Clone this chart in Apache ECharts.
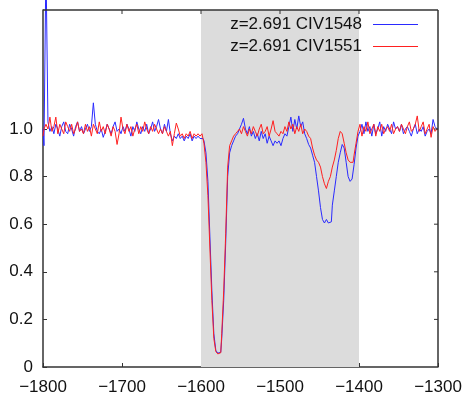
<!DOCTYPE html>
<html>
<head>
<meta charset="utf-8">
<script src="https://cdn.jsdelivr.net/npm/echarts@6/dist/echarts.min.js"></script>
<style>html,body{margin:0;padding:0;background:#fff;}#c{width:464px;height:400px;}</style>
</head>
<body>
<div id="c"></div>
<script>
// velocity grid (km/s), one value per spectral pixel
var VEL_START = -1800;
var VEL_STEP = 2.5;

var seriesNames = ['z=2.691 CIV1548', 'z=2.691 CIV1551'];

// normalised flux, CIV 1548 (blue)
var civ1548 = [
  1.00, 0.93, 1.70, 1.03, 0.99, 1.01, 0.98, 1.02, 1.00, 0.97, 1.01, 1.03, 0.99, 0.98, 1.02, 1.00, 0.97, 1.01, 1.03, 0.99,
  1.01, 0.98, 1.00, 1.02, 0.99, 1.01, 1.11, 1.02, 0.99, 0.98, 1.00, 0.965, 0.99, 1.02, 1.00, 0.98, 1.01, 1.03, 0.99, 1.00,
  0.98, 1.01, 0.99, 1.02, 1.00, 0.97, 1.01, 0.99, 1.03, 1.00, 0.98, 1.01, 0.99, 1.02, 0.98, 1.00, 1.03, 0.99, 1.01, 1.04,
  1.00, 0.98, 1.02, 0.99, 1.04, 0.98, 0.95, 0.97, 0.96, 0.98, 0.96, 0.97, 0.95, 0.97, 0.96, 0.98, 0.95, 0.97, 0.96, 0.97,
  0.96, 0.96, 0.95, 0.90, 0.78, 0.55, 0.32, 0.14, 0.07, 0.058, 0.062, 0.12, 0.28, 0.52, 0.80, 0.90, 0.93, 0.95, 0.97, 0.98,
  1.00, 1.02, 1.045, 1.00, 0.98, 1.01, 0.97, 0.99, 0.96, 0.98, 0.95, 0.99, 0.96, 0.98, 0.94, 0.97, 0.95, 0.93, 0.95, 0.94,
  0.95, 0.93, 0.96, 0.98, 0.97, 1.01, 1.05, 0.99, 1.04, 1.00, 1.055, 1.01, 1.03, 0.98, 0.96, 0.935, 0.92, 0.89, 0.86, 0.80,
  0.74, 0.67, 0.62, 0.605, 0.62, 0.605, 0.61, 0.68, 0.74, 0.80, 0.86, 0.90, 0.935, 0.92, 0.86, 0.80, 0.78, 0.79, 0.85, 0.92,
  0.97, 0.99, 1.02, 0.98, 1.03, 0.99, 1.01, 0.97, 1.02, 0.98, 1.00, 1.03, 0.97, 1.01, 0.99, 1.02, 1.00, 0.98, 1.03, 1.00,
  1.01, 0.99, 1.02, 0.98, 1.00, 1.01, 0.99, 0.97, 1.00, 1.02, 0.98, 1.00, 0.99, 1.01, 0.97, 0.99, 1.00, 0.98, 1.04, 1.01, 1.00
];

// normalised flux, CIV 1551 (red)
var civ1551 = [
  0.97, 1.00, 1.02, 1.00, 1.05, 0.99, 1.01, 1.05, 0.98, 1.02, 1.00, 0.98, 1.03, 1.01, 0.99, 1.02, 0.98, 1.00, 1.03, 0.99,
  1.00, 0.98, 1.02, 0.99, 1.01, 0.97, 1.02, 1.00, 0.98, 1.03, 0.99, 1.01, 0.98, 1.02, 1.00, 0.97, 1.01, 0.99, 0.935, 0.98,
  1.05, 1.00, 0.98, 1.02, 0.99, 1.01, 0.97, 1.00, 1.02, 0.98, 1.01, 0.99, 1.03, 1.00, 0.98, 1.01, 0.99, 1.02, 1.00, 0.98,
  1.00, 0.98, 1.01, 0.99, 0.97, 0.99, 0.93, 0.98, 1.025, 1.00, 0.97, 0.98, 0.96, 0.98, 0.97, 0.99, 0.96, 0.98, 0.97, 0.98,
  0.97, 0.98, 0.94, 0.86, 0.72, 0.50, 0.28, 0.12, 0.065, 0.055, 0.06, 0.14, 0.32, 0.56, 0.84, 0.93, 0.95, 0.97, 0.98, 0.99,
  1.00, 0.98, 1.01, 0.99, 0.97, 1.00, 0.98, 1.01, 0.99, 0.97, 1.00, 1.02, 0.98, 0.99, 1.01, 0.97, 1.00, 1.035, 0.99, 0.98,
  0.97, 0.99, 0.98, 1.01, 0.99, 1.03, 1.00, 1.02, 0.98, 1.01, 0.99, 1.02, 0.98, 1.00, 0.99, 0.97, 0.96, 0.92, 0.89, 0.87,
  0.86, 0.84, 0.80, 0.77, 0.75, 0.78, 0.80, 0.84, 0.87, 0.91, 0.96, 0.99, 0.98, 0.94, 0.90, 0.87, 0.86, 0.86, 0.89, 0.94,
  0.99, 1.02, 0.97, 1.01, 0.99, 1.03, 0.98, 1.00, 1.02, 0.97, 1.01, 0.99, 1.02, 0.98, 1.00, 1.01, 0.99, 1.02, 0.98, 1.00,
  1.01, 0.99, 1.02, 1.00, 0.98, 1.01, 1.03, 0.99, 1.00, 1.02, 1.055, 0.99, 1.01, 1.03, 0.98, 1.00, 1.02, 0.965, 1.01, 0.99, 1.00
];

// shaded velocity window
var shadeRange = [-1600, -1400];

// tick labels
var xTicks = [-1800, -1700, -1600, -1500, -1400, -1300];
var yTicks = [0, 0.2, 0.4, 0.6, 0.8, 1.0];
var Y_MAX = 1.5;

function pairs(arr) {
  return arr.map(function (f, i) { return [VEL_START + i * VEL_STEP, f]; });
}

var AX = '#333333';
var FONT = 'Liberation Sans, Arial, sans-serif';

var chart = echarts.init(document.getElementById('c'));
chart.setOption({
  animation: false,
  grid: { left: 43, top: 10, width: 395, height: 357, containLabel: false, outerBoundsMode: 'none' },
  legend: {
    orient: 'vertical', right: 46, top: 16, padding: 0, align: 'right',
    icon: 'rect', itemWidth: 45, itemHeight: 1, itemGap: 5,
    textStyle: { fontFamily: FONT, fontSize: 17, color: '#111', padding: [0, 6, 0, 0] },
    data: seriesNames
  },
  xAxis: {
    type: 'value', position: 'bottom',
    min: xTicks[0], max: xTicks[xTicks.length - 1], interval: 100,
    axisLine: { show: true, onZero: false, lineStyle: { color: AX, width: 1.5 } },
    axisTick: { show: true, inside: true, length: 4, lineStyle: { color: AX, width: 1 } },
    splitLine: { show: false },
    axisLabel: {
      show: true, margin: 12, fontFamily: FONT, fontSize: 17, color: '#111',
      formatter: function (v) { return String(v).replace('-', '\u2212'); }
    }
  },
  yAxis: {
    type: 'value', position: 'left', min: 0, max: Y_MAX,
    axisLine: { show: true, onZero: false, lineStyle: { color: AX, width: 1.5 } },
    axisTick: { show: true, inside: true, length: 4, customValues: yTicks, lineStyle: { color: AX, width: 1 } },
    splitLine: { show: false },
    axisLabel: {
      show: true, margin: 10, fontFamily: FONT, fontSize: 17, color: '#111',
      customValues: yTicks,
      formatter: function (v) { return v === 0 ? '0' : v.toFixed(1); }
    }
  },
  series: [
    {
      name: seriesNames[0], type: 'line', step: 'middle', symbol: 'none', showSymbol: false,
      clip: false,
      lineStyle: { color: '#2a2aff', width: 1 }, itemStyle: { color: '#2a2aff' },
      data: pairs(civ1548),
      markArea: {
        silent: true,
        itemStyle: { color: '#dcdcdc' },
        data: [[{ xAxis: shadeRange[0] }, { xAxis: shadeRange[1] }]]
      },
      z: 2
    },
    {
      name: seriesNames[1], type: 'line', step: 'middle', symbol: 'none', showSymbol: false,
      lineStyle: { color: '#ff2020', width: 1 }, itemStyle: { color: '#ff2020' },
      data: pairs(civ1551),
      z: 3
    }
  ]
});

// top and right frame edges with mirrored inward ticks, positioned through the chart's own scales
var xMin = xTicks[0], xMax = xTicks[xTicks.length - 1];
var tl = chart.convertToPixel({ gridIndex: 0 }, [xMin, Y_MAX]);
var tr = chart.convertToPixel({ gridIndex: 0 }, [xMax, Y_MAX]);
var br = chart.convertToPixel({ gridIndex: 0 }, [xMax, 0]);
var frame = [
  { type: 'line', shape: { x1: tl[0], y1: tl[1], x2: tr[0], y2: tr[1] }, style: { stroke: AX, lineWidth: 1.5 }, z: 50, silent: true },
  { type: 'line', shape: { x1: tr[0], y1: tr[1], x2: br[0], y2: br[1] }, style: { stroke: AX, lineWidth: 1.5 }, z: 50, silent: true }
];
xTicks.slice(1, -1).forEach(function (v) {
  var p = chart.convertToPixel({ gridIndex: 0 }, [v, Y_MAX]);
  frame.push({ type: 'line', shape: { x1: p[0], y1: p[1], x2: p[0], y2: p[1] + 4 }, style: { stroke: AX, lineWidth: 1 }, z: 50, silent: true });
});
yTicks.slice(1).forEach(function (v) {
  var p = chart.convertToPixel({ gridIndex: 0 }, [xMax, v]);
  frame.push({ type: 'line', shape: { x1: p[0], y1: p[1], x2: p[0] - 4, y2: p[1] }, style: { stroke: AX, lineWidth: 1 }, z: 50, silent: true });
});
chart.setOption({ graphic: { elements: frame } });
</script>
</body>
</html>
